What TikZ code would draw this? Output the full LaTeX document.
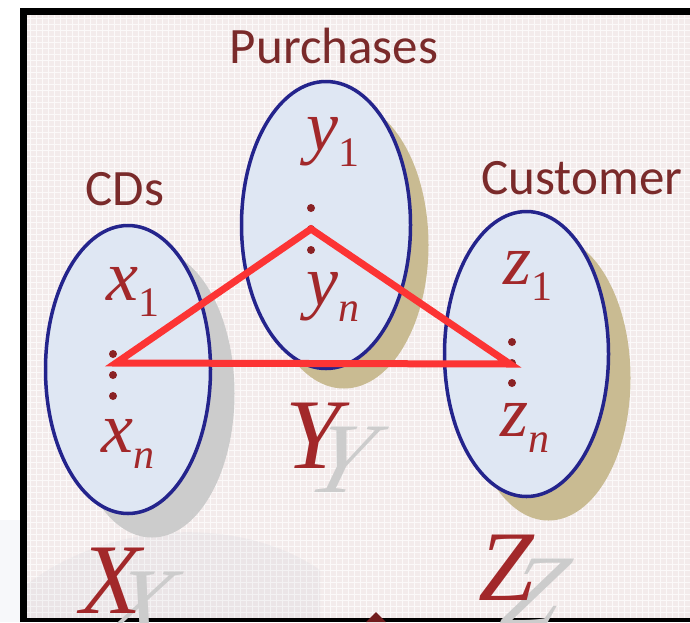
\documentclass[tikz,border=0pt]{standalone}
\usepackage{fontspec}
\usetikzlibrary{shapes.geometric,shadows}
\setmainfont{Liberation Serif}
\newfontfamily\titlefont{Carlito}
\definecolor{bgpink}{RGB}{243,235,235}
\definecolor{ellfill}{RGB}{223,231,243}
\definecolor{elldraw}{RGB}{36,36,140}
\definecolor{shtan}{RGB}{201,187,146}
\definecolor{shgray}{RGB}{204,204,204}
\definecolor{titlered}{RGB}{122,42,42}
\definecolor{varred}{RGB}{162,40,42}
\definecolor{trired}{RGB}{252,52,52}
\definecolor{photoblue}{RGB}{150,165,185}
\newcommand{\sublab}[2]{\itshape #1\raisebox{-16pt}{\fontsize{42}{42}\selectfont #2}}

\begin{document}
\begin{tikzpicture}[x=1pt,y=-1pt,
	every node/.style={inner sep=0pt},
	setell/.style={ellipse, draw=elldraw, fill=ellfill, line width=3.5pt},
	settitle/.style={font=\titlefont\fontsize{51}{51}\selectfont, text=titlered, anchor=base},
	setvar/.style={font=\rmfamily\fontsize{72}{72}\selectfont, text=varred, anchor=base west},
	setbig/.style={font=\rmfamily\fontsize{100}{100}\selectfont\itshape, anchor=base west}]
	\useasboundingbox (0,0) rectangle (690,622);
	\clip (0,0) rectangle (690,622);
	\fill[bgpink] (26,14) rectangle (690,618);
	\draw[white, line width=0.8pt, opacity=0.7, step=6pt] (26,14) grid (690,618);
	\fill[photoblue, opacity=0.08] (26,585) .. controls (110,520) and (240,515) .. (320,570) -- (320,618) -- (26,618) -- cycle;
	\fill[photoblue, opacity=0.08] (0,520) rectangle (20,622);
	\draw[gray, line width=0.8pt] (20,8) -- (690,8);
	\draw[black, line width=6.5pt] (23.5,622) -- (23.5,11.5) -- (690,11.5);
	\fill[black] (20,618) rectangle (690,622);
	\node[setell, minimum width=165pt, minimum height=288pt, drop shadow={shadow xshift=24pt, shadow yshift=-24pt, fill=shgray, opacity=1}] (cds) at (128,369.5) {};
	\node[setell, minimum width=169pt, minimum height=287pt, drop shadow={shadow xshift=18pt, shadow yshift=-20pt, fill=shtan, opacity=1}] (purch) at (326,225) {};
	\node[setell, minimum width=164pt, minimum height=285pt, drop shadow={shadow xshift=22pt, shadow yshift=-24pt, fill=shtan, opacity=1}] (cust) at (526.5,354) {};
	\node[settitle] (cdstitle) at (125,205) {CDs};
	\node[settitle] (purchtitle) at (334,63) {Purchases};
	\node[settitle] (custtitle) at (582,194) {Customer};
	\node[setvar] (xone) at (106,300) {\sublab{x}{\upshape 1}};
	\node[setvar] (xn) at (101,452) {\sublab{x}{n}};
	\node[setvar] (yone) at (306,150) {\sublab{y}{\upshape 1}};
	\node[setvar] (yn) at (306,305) {\sublab{y}{n}};
	\node[setvar] (zone) at (503,284) {\sublab{z}{\upshape 1}};
	\node[setvar] (zn) at (500,436) {\sublab{z}{n}};
	\foreach \px/\py in {113/354, 113/375, 113/396, 311/208, 311/229, 311/250, 512/342, 512/363, 512/383}
		\fill[varred!85!black] (\px,\py) circle (4pt);
	\coordinate (xdot) at (116,363);
	\coordinate (ydot) at (311,229);
	\coordinate (zdot) at (510,364);
	\draw[trired, line width=7pt] (xdot) -- (ydot) -- (zdot) -- cycle;
	\node[setbig, text=shgray, xslant=0.3] (xshadow) at (100,637) {X};
	\node[setbig, text=shgray, xslant=0.3] (yshadow) at (305,492) {Y};
	\node[setbig, text=shgray, xslant=0.3] (zshadow) at (498,624) {Z};
	\node[setbig, text=varred] (xbig) at (80,613) {X};
	\node[setbig, text=varred] (ybig) at (285,468) {Y};
	\node[setbig, text=varred] (zbig) at (478,600) {Z};
	\fill[varred!70!black] (366,622) -- (376,612) -- (386,622) -- cycle;
\end{tikzpicture}
\end{document}
